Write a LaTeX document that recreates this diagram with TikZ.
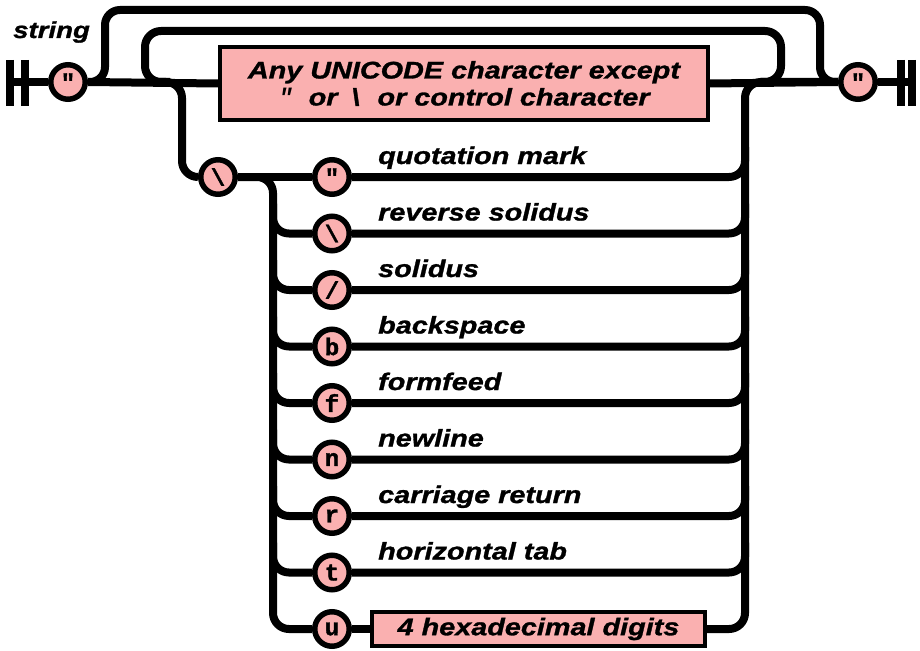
\documentclass[tikz,border=0pt]{standalone}
\usepackage{fontspec}
\setmainfont{Liberation Sans}[FakeStretch=1.2, BoldItalicFeatures={FakeBold=1.2}]
\newfontfamily\monofnt{Liberation Mono}[BoldFeatures={FakeBold=1.5}]
\definecolor{pinkfill}{RGB}{250,176,176}
\begin{document}
\begin{tikzpicture}[x=1pt,y=-1pt,
  track/.style={line width=8pt, rounded corners=16pt},
  bar/.style={line width=7.5pt},
  term/.style={circle, draw, line width=5.5pt, fill=pinkfill, minimum size=34.5pt, inner sep=0pt,
    font=\monofnt\bfseries\fontsize{24}{24}\selectfont},
  nonterm/.style={rectangle, draw, line width=4pt, fill=pinkfill, inner sep=0pt, align=center,
    font=\bfseries\itshape\fontsize{24}{28}\selectfont},
  lbl/.style={anchor=base west, inner sep=0pt, font=\bfseries\itshape\fontsize{24}{28}\selectfont},
]
\useasboundingbox (0,0) rectangle (920,650);

% title
\node[lbl, font=\bfseries\itshape\fontsize{23}{28}\selectfont] (title) at (13,38) {string};

% start / end
\coordinate (s1) at (10,82);
\coordinate (e2) at (912,82);
\draw[bar] (10,60) -- (10,106);
\draw[bar] (25,60) -- (25,106);
\draw[bar] (901,60) -- (901,106);
\draw[bar] (912,60) -- (912,106);

% main nodes
\node[term] (lq) at (68,82) {"};
\node[term] (rq) at (858,82) {"};
\node[nonterm, minimum width=488pt, minimum height=73pt] (any) at (464,83.5)
  {Any UNICODE character except\\[-1pt]{\monofnt\bfseries"}\hspace{16pt}or\hspace{14pt}\textbackslash\hspace{18pt}or control character};
\node[term] (bs) at (218,177) {\textbackslash};

% escape rows
\node[term] (c1) at (332,177) {"};
\node[term] (c2) at (332,233.5) {\textbackslash};
\node[term] (c3) at (332,290) {/};
\node[term] (c4) at (332,346.5) {b};
\node[term] (c5) at (332,403) {f};
\node[term] (c6) at (332,459.5) {n};
\node[term] (c7) at (332,516) {r};
\node[term] (c8) at (332,572.5) {t};
\node[term] (c9) at (332,629) {u};
\node[nonterm, minimum width=333pt, minimum height=34pt] (hex) at (538.5,629) {4 hexadecimal digits};

\node[lbl] (l1) at (378,164) {quotation mark};
\node[lbl] (l2) at (378,220.5) {reverse solidus};
\node[lbl] (l3) at (378,277) {solidus};
\node[lbl] (l4) at (378,333.5) {backspace};
\node[lbl] (l5) at (378,390) {formfeed};
\node[lbl] (l6) at (378,446.5) {newline};
\node[lbl] (l7) at (378,503) {carriage return};
\node[lbl] (l8) at (378,559.5) {horizontal tab};

% main line
\draw[track] (s1) -- (lq.west);
\draw[track] (lq.east) -- (any.west);
\draw[track] (any.east) -- (rq.west);
\draw[track] (rq.east) -- (e2);

% skip loop (empty string)
\draw[track, rounded corners=15pt] (lq.east) -- (105,82) -- (105,10) -- (820,10) -- (820,82) -- (rq.west);
% repeat loop
\draw[track] (760,82) -- (781,82) -- (781,31) -- (145,31) -- (145,82) -- (170,82);
% escape branch
\draw[track] (155,82) -- (182,82) -- (182,177) -- (bs.west);
\draw[track] (bs.east) -- (c1.west);
\draw[track] (bs.east) -- (273,177) -- (273,629) -- (c9.west);
\foreach \n/\y in {c2/233.5, c3/290, c4/346.5, c5/403, c6/459.5, c7/516, c8/572.5}{
  \draw[track] (273,\y-30) -- (273,\y) -- (\n.west);
}
\foreach \n/\y in {c1/177, c2/233.5, c3/290, c4/346.5, c5/403, c6/459.5, c7/516, c8/572.5}{
  \draw[track] (\n.east) -- (745,\y) -- (745,\y-30);
}
\draw[track] (c9.east) -- (hex.west);
\draw[track] (hex.east) -- (745,629) -- (745,82) -- (rq.west);
\end{tikzpicture}
\end{document}
